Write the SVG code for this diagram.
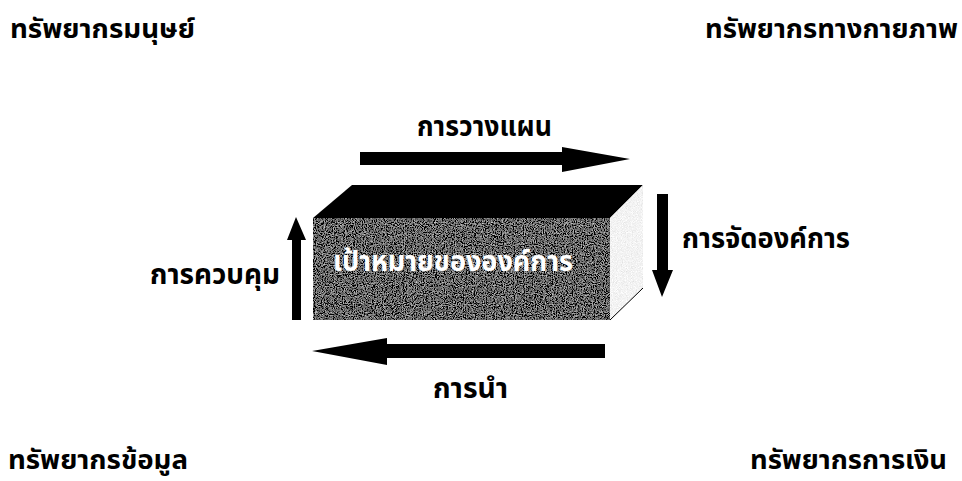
<svg xmlns="http://www.w3.org/2000/svg" width="962" height="481" viewBox="0 0 962 481">
<style>
.t{font-family:"Noto Sans Thai","Noto Sans","DejaVu Sans",sans-serif;font-weight:bold;fill:#000;font-size:28px}
.c{font-size:26px}
.w{fill:#fff;font-size:28px}
.ar{fill:#000}
</style>
<defs>
<filter id="noise" x="0" y="0" width="100%" height="100%">
<feTurbulence type="fractalNoise" baseFrequency="0.9" numOctaves="2" seed="3" result="n"/>
<feColorMatrix type="matrix" values="0.33 0.33 0.33 0 0  0.33 0.33 0.33 0 0  0.33 0.33 0.33 0 0  0 0 0 0 1" result="g"/>
<feComponentTransfer in="g"><feFuncR type="linear" slope="2.2" intercept="-0.95"/><feFuncG type="linear" slope="2.2" intercept="-0.95"/><feFuncB type="linear" slope="2.2" intercept="-0.95"/></feComponentTransfer>
<feComposite in2="SourceGraphic" operator="in"/>
</filter>
<filter id="noiseLight" x="0" y="0" width="100%" height="100%">
<feTurbulence type="fractalNoise" baseFrequency="1.2" numOctaves="1" seed="7" result="n"/>
<feColorMatrix type="matrix" values="0.33 0.33 0.33 0 0  0.33 0.33 0.33 0 0  0.33 0.33 0.33 0 0  0 0 0 0 1" result="g"/>
<feComponentTransfer in="g"><feFuncR type="linear" slope="0.8" intercept="0.5"/><feFuncG type="linear" slope="0.8" intercept="0.5"/><feFuncB type="linear" slope="0.8" intercept="0.5"/></feComponentTransfer>
<feComposite in2="SourceGraphic" operator="in"/>
</filter>
</defs>

<g id="box">
<polygon points="313,218 352,185 643,185 610,218" fill="#000"/>
<polygon points="610,218 643,185 643,288 610,320" fill="#ddd" filter="url(#noiseLight)"/>
<line x1="610" y1="320" x2="643" y2="288" stroke="#000" stroke-width="1"/>
<rect x="313" y="218" width="297" height="102" fill="#555" filter="url(#noise)"/>
<text class="t w" x="333" y="271" textLength="240" lengthAdjust="spacingAndGlyphs">เป้าหมายขององค์การ</text>
</g>

<g id="connectors">
<polygon class="ar" points="360,152 562,152 562,147 630,159 562,172 562,165 360,165"/>
<polygon class="ar" points="657,194 668,194 668,270 673,270 662,297 652,270 657,270"/>
<polygon class="ar" points="605,344 387,344 387,338 312,351 387,365 387,358 605,358"/>
<polygon class="ar" points="292,320 292,240 287,240 296,217 306,240 301,240 301,320"/>
</g>

<g id="label-planning"><text class="t" x="417" y="136" textLength="135" lengthAdjust="spacingAndGlyphs">การวางแผน</text></g>
<g id="label-organizing"><text class="t" x="682" y="248" textLength="168" lengthAdjust="spacingAndGlyphs">การจัดองค์การ</text></g>
<g id="label-controlling"><text class="t" x="150" y="284" textLength="130" lengthAdjust="spacingAndGlyphs">การควบคุม</text></g>
<g id="label-leading"><text class="t" x="433" y="398" textLength="75" lengthAdjust="spacingAndGlyphs">การนำ</text></g>

<g id="human"><text class="t c" x="10" y="38" textLength="185" lengthAdjust="spacingAndGlyphs">ทรัพยากรมนุษย์</text></g>
<g id="physical"><text class="t c" x="705" y="38" textLength="253" lengthAdjust="spacingAndGlyphs">ทรัพยากรทางกายภาพ</text></g>
<g id="information"><text class="t c" x="8" y="469" textLength="180" lengthAdjust="spacingAndGlyphs">ทรัพยากรข้อมูล</text></g>
<g id="financial"><text class="t c" x="750" y="469" textLength="197" lengthAdjust="spacingAndGlyphs">ทรัพยากรการเงิน</text></g>
</svg>
